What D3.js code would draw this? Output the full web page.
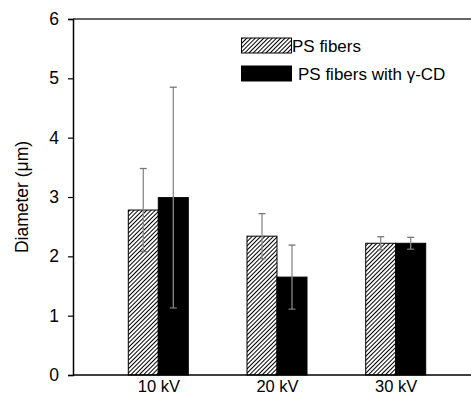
<!DOCTYPE html>
<html><head><meta charset="utf-8">
<script src="https://cdn.jsdelivr.net/npm/d3@7"></script>
<style>body{margin:0;background:#fff;} svg{display:block;}</style>
</head><body>
<svg id="c" width="471" height="396"></svg>
<script>
const categories = ["10 kV", "20 kV", "30 kV"];
const seriesNames = ["PS fibers", "PS fibers with \u03b3-CD"];
const psValues = [2.78, 2.34, 2.22];
const psErrors = [0.70, 0.38, 0.11];
const cdValues = [2.99, 1.65, 2.22];
const cdErrors = [1.86, 0.54, 0.10];
const yTicks = [0, 1, 2, 3, 4, 5, 6];

const svg = d3.select("#c");
const font = "'Liberation Sans', Arial, sans-serif";
const mLeft = 73, mRight = 471, mTop = 19, mBottom = 375;

const defs = svg.append("defs");
const pat = defs.append("pattern").attr("id", "hatch").attr("patternUnits", "userSpaceOnUse")
  .attr("width", 3).attr("height", 3).attr("patternTransform", "rotate(45)");
pat.append("rect").attr("width", 3).attr("height", 3).attr("fill", "#fff");
pat.append("line").attr("x1", 0).attr("y1", 0).attr("x2", 0).attr("y2", 3)
  .attr("stroke", "#000").attr("stroke-width", 2);

const y = d3.scaleLinear().domain([0, 6]).range([mBottom, mTop]);
const x = d3.scalePoint().domain(categories).range([158.3, 395.7]);
const barW = 30;

// top frame line
svg.append("line").attr("x1", mLeft).attr("x2", mRight).attr("y1", mTop).attr("y2", mTop)
  .attr("stroke", "#333").attr("stroke-width", 1.5);

// y axis
const yAxis = svg.append("g").attr("transform", `translate(${mLeft},0)`)
  .call(d3.axisLeft(y).tickValues(yTicks).tickSize(5).tickPadding(9).tickFormat(d3.format("d")));
yAxis.select(".domain").attr("stroke", "#000").attr("stroke-width", 1.5);
yAxis.selectAll(".tick line").attr("stroke", "#000").attr("stroke-width", 1.2);
yAxis.selectAll("text").attr("font-family", font).attr("font-size", 17.5).attr("fill", "#000");

// bars
const series = [
  {vals: psValues, errs: psErrors, fill: "url(#hatch)", off: -barW},
  {vals: cdValues, errs: cdErrors, fill: "#000", off: 0}
];
series.forEach(s => {
  svg.append("g").selectAll("rect").data(categories).join("rect")
    .attr("x", d => x(d) + s.off).attr("width", barW)
    .attr("y", (d, i) => y(s.vals[i])).attr("height", (d, i) => mBottom - y(s.vals[i]))
    .attr("fill", s.fill).attr("stroke", "#000").attr("stroke-width", 1);
});
// error bars
series.forEach(s => {
  const g = svg.append("g");
  categories.forEach((c, i) => {
    const cx = x(c) + s.off + barW / 2;
    const hi = y(s.vals[i] + s.errs[i]), lo = y(s.vals[i] - s.errs[i]);
    g.append("line").attr("x1", cx).attr("x2", cx).attr("y1", hi).attr("y2", lo)
      .attr("stroke", "#8a8a8a").attr("stroke-width", 1.3);
    [hi, lo].forEach(yy => g.append("line").attr("x1", cx - 3.5).attr("x2", cx + 3.5)
      .attr("y1", yy).attr("y2", yy).attr("stroke", "#777").attr("stroke-width", 1.3));
  });
});

// x axis
const xAxis = svg.append("g").attr("transform", `translate(0,${mBottom})`)
  .call(d3.axisBottom(x).tickSize(0).tickPadding(5));
xAxis.select(".domain").remove();
svg.append("line").attr("x1", mLeft).attr("x2", mRight).attr("y1", mBottom).attr("y2", mBottom)
  .attr("stroke", "#000").attr("stroke-width", 1.5);
xAxis.selectAll("text").attr("font-family", font).attr("font-size", 16.5).attr("fill", "#000");

// y label
svg.append("text").attr("transform", `translate(28,${(mTop + mBottom) / 2}) rotate(-90)`)
  .attr("text-anchor", "middle").attr("font-family", font).attr("font-size", 17.5)
  .text("Diameter (\u03bcm)");

// legend
const leg = svg.append("g");
const legFills = ["url(#hatch)", "#000"];
const legY = [38, 66];
const legTX = [292, 298];
seriesNames.forEach((n, i) => {
  leg.append("rect").attr("x", 241.5).attr("y", legY[i]).attr("width", 50).attr("height", 15)
    .attr("fill", legFills[i]).attr("stroke", "#000").attr("stroke-width", 1);
  leg.append("text").attr("x", legTX[i]).attr("y", legY[i] + 14)
    .attr("font-family", font).attr("font-size", 17).text(n);
});
</script>
</body></html>
